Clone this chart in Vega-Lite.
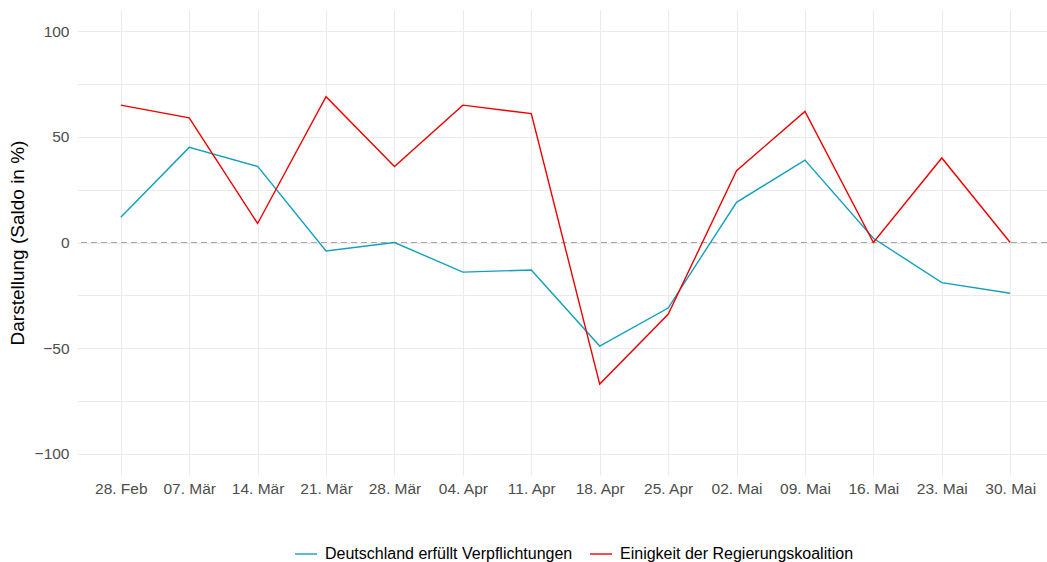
{
  "$schema": "https://vega.github.io/schema/vega-lite/v6.json",
  "width": 970,
  "height": 465,
  "autosize": {"type": "none"},
  "padding": {"left": 77, "top": 10, "right": 0, "bottom": 87},
  "background": "white",
  "config": {
    "view": {"stroke": null},
    "font": "Liberation Sans"
  },
  "data": {
    "values": [
      {"d": "28. Feb", "s": "Deutschland erfüllt Verpflichtungen", "v": 12},
      {"d": "07. Mär", "s": "Deutschland erfüllt Verpflichtungen", "v": 45},
      {"d": "14. Mär", "s": "Deutschland erfüllt Verpflichtungen", "v": 36},
      {"d": "21. Mär", "s": "Deutschland erfüllt Verpflichtungen", "v": -4},
      {"d": "28. Mär", "s": "Deutschland erfüllt Verpflichtungen", "v": 0},
      {"d": "04. Apr", "s": "Deutschland erfüllt Verpflichtungen", "v": -14},
      {"d": "11. Apr", "s": "Deutschland erfüllt Verpflichtungen", "v": -13},
      {"d": "18. Apr", "s": "Deutschland erfüllt Verpflichtungen", "v": -49},
      {"d": "25. Apr", "s": "Deutschland erfüllt Verpflichtungen", "v": -31},
      {"d": "02. Mai", "s": "Deutschland erfüllt Verpflichtungen", "v": 19},
      {"d": "09. Mai", "s": "Deutschland erfüllt Verpflichtungen", "v": 39},
      {"d": "16. Mai", "s": "Deutschland erfüllt Verpflichtungen", "v": 2},
      {"d": "23. Mai", "s": "Deutschland erfüllt Verpflichtungen", "v": -19},
      {"d": "30. Mai", "s": "Deutschland erfüllt Verpflichtungen", "v": -24},
      {"d": "28. Feb", "s": "Einigkeit der Regierungskoalition", "v": 65},
      {"d": "07. Mär", "s": "Einigkeit der Regierungskoalition", "v": 59},
      {"d": "14. Mär", "s": "Einigkeit der Regierungskoalition", "v": 9},
      {"d": "21. Mär", "s": "Einigkeit der Regierungskoalition", "v": 69},
      {"d": "28. Mär", "s": "Einigkeit der Regierungskoalition", "v": 36},
      {"d": "04. Apr", "s": "Einigkeit der Regierungskoalition", "v": 65},
      {"d": "11. Apr", "s": "Einigkeit der Regierungskoalition", "v": 61},
      {"d": "18. Apr", "s": "Einigkeit der Regierungskoalition", "v": -67},
      {"d": "25. Apr", "s": "Einigkeit der Regierungskoalition", "v": -34},
      {"d": "02. Mai", "s": "Einigkeit der Regierungskoalition", "v": 34},
      {"d": "09. Mai", "s": "Einigkeit der Regierungskoalition", "v": 62},
      {"d": "16. Mai", "s": "Einigkeit der Regierungskoalition", "v": 0},
      {"d": "23. Mai", "s": "Einigkeit der Regierungskoalition", "v": 40},
      {"d": "30. Mai", "s": "Einigkeit der Regierungskoalition", "v": 0}
    ]
  },
  "layer": [
    {
      "mark": {"type": "rule", "color": "#a6a6a6", "strokeDash": [6, 4], "strokeWidth": 1.1},
      "encoding": {"y": {"datum": 0, "type": "quantitative"}}
    },
    {
      "mark": {"type": "line", "strokeWidth": 1.4},
      "encoding": {
        "x": {
          "field": "d",
          "type": "ordinal",
          "sort": null,
          "scale": {"type": "point", "range": [0, 977], "padding": 0.64},
          "axis": {
            "title": null,
            "labelAngle": 0,
            "labelFontSize": 15.5,
            "labelColor": "#4d4d4d",
            "labelPadding": 6,
            "ticks": false,
            "domain": false,
            "grid": true,
            "gridColor": "#ebebeb",
            "gridWidth": 1.1
          }
        },
        "y": {
          "field": "v",
          "type": "quantitative",
          "scale": {"domain": [-110, 110], "nice": false, "zero": false},
          "axis": {
            "title": "Darstellung (Saldo in %)",
            "titleFontSize": 19,
            "titleFontWeight": "normal",
            "titleColor": "black",
            "titlePadding": 7,
            "values": [-100, -75, -50, -25, 0, 25, 50, 75, 100],
            "labelExpr": "datum.value % 50 === 0 ? datum.label : ''",
            "labelFontSize": 15.5,
            "labelColor": "#4d4d4d",
            "labelPadding": 8,
            "ticks": false,
            "domain": false,
            "grid": true,
            "gridColor": "#ebebeb",
            "gridWidth": 1.1
          }
        },
        "color": {
          "field": "s",
          "type": "nominal",
          "scale": {
            "domain": ["Deutschland erfüllt Verpflichtungen", "Einigkeit der Regierungskoalition"],
            "range": ["#12a0bd", "#ee0000"]
          },
          "legend": {
            "title": null,
            "orient": "none",
            "legendX": 217,
            "legendY": 532,
            "direction": "horizontal",
            "symbolType": "stroke",
            "symbolSize": 484,
            "symbolStrokeWidth": 1.4,
            "labelFontSize": 16,
            "labelColor": "black",
            "labelOffset": 7,
            "columnPadding": 14,
            "labelLimit": 400
          }
        }
      }
    }
  ]
}
